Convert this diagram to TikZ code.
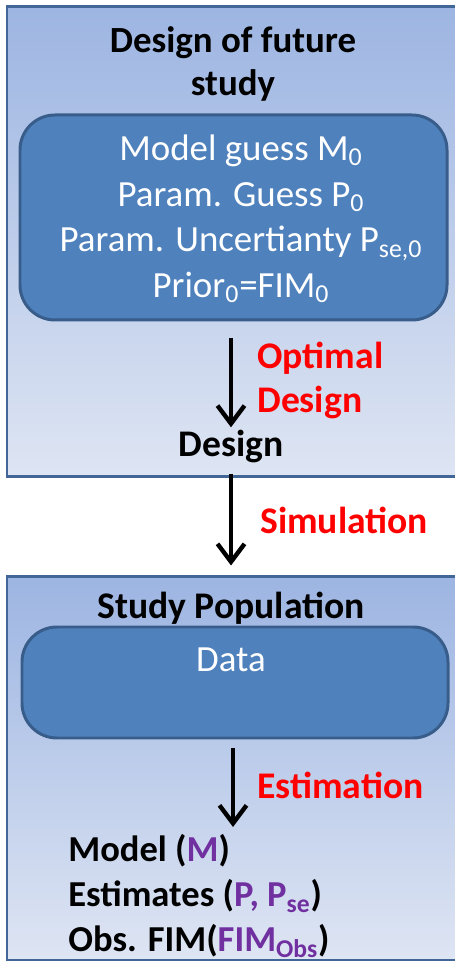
\documentclass[tikz,border=0pt]{standalone}
\usepackage{fontspec}
\setmainfont{Carlito}
\usetikzlibrary{arrows.meta,positioning}

\definecolor{panelborder}{RGB}{66,102,152}
\definecolor{paneltop}{RGB}{157,181,226}
\definecolor{panelbottom}{RGB}{222,229,243}
\definecolor{boxfill}{RGB}{79,129,189}
\definecolor{boxborder}{RGB}{56,93,138}
\definecolor{estpurple}{RGB}{112,48,160}

\tikzset{
  panel/.style={draw=panelborder, line width=1.7pt, top color=paneltop, bottom color=panelbottom, inner sep=0pt},
  roundbox/.style={draw=boxborder, fill=boxfill, line width=1.7pt, rounded corners=0.7cm, inner sep=0pt},
  flow/.style={line width=2.5pt, -{Straight Barb[length=3.6mm,width=5.4mm]}},
  redlabel/.style={text=red, font=\fontsize{21.4}{25.5}\selectfont\bfseries, align=left, inner sep=0pt, anchor=west},
  blacklabel/.style={font=\fontsize{21.4}{25.5}\selectfont\bfseries, inner sep=0pt}
}

\begin{document}
\begin{tikzpicture}
    \useasboundingbox (0,0) rectangle (9.08,19.26);

    % upper panel
    \node[panel, minimum width=9.26cm, minimum height=9.40cm] (designpanel) at (4.77,14.42) {};
    \node[font=\fontsize{21}{24.5}\selectfont\bfseries, align=center, inner sep=0pt] (designtitle) at (4.66,17.99) {Design of future\\study};
    \node[roundbox, minimum width=8.54cm, minimum height=4.10cm] (guessbox) at (4.67,14.91) {};
    \node[text=white, font=\fontsize{21}{26}\selectfont, align=center, inner sep=0pt] (guesstext) at (4.82,14.88)
        {Model guess M\textsubscript{0}\\
         Param. Guess P\textsubscript{0}\\
         Param. Uncertianty P\textsubscript{se,0}\\
         Prior\textsubscript{0}=FIM\textsubscript{0}};
    \node[blacklabel] (design) at (4.62,10.32) {Design};
    \draw[flow, shorten <=0.34cm, shorten >=0.06cm] (guessbox.south -| design) -- (design.north);
    \node[redlabel] (optlabel) at (5.14,11.65) {Optimal\\Design};

    % lower panel
    \node[panel, minimum width=9.26cm, minimum height=7.66cm] (studypanel) at (4.77,3.89) {};
    \node[blacklabel] (studytitle) at (4.62,7.10) {Study Population};
    \node[roundbox, minimum width=8.52cm, minimum height=2.22cm] (databox) at (4.70,5.61) {};
    \node[text=white, font=\fontsize{21}{26}\selectfont, inner sep=0pt] (datatext) at (4.62,6.06) {Data};

    % simulation arrow
    \draw[flow, shorten <=0.2cm, shorten >=0.2cm] (design.south) -- (design.south |- studypanel.north);
    \node[redlabel] (simlabel) at (5.20,8.86) {Simulation};

    % estimation arrow and results
    \node[font=\fontsize{20.8}{25.5}\selectfont\bfseries, align=left, inner sep=0pt, anchor=west] (results) at (1.36,1.34)
        {Model (\textcolor{estpurple}{M})\\
         Estimates (\textcolor{estpurple}{P, P\textsubscript{se}})\\
         Obs. FIM(\textcolor{estpurple}{FIM\textsubscript{Obs}})};
    \coordinate (esttip) at (4.66,2.72);
    \draw[flow, shorten <=0.18cm] (databox.south -| esttip) -- (esttip);
    \node[redlabel] (estlabel) at (5.14,3.56) {Estimation};
\end{tikzpicture}
\end{document}
